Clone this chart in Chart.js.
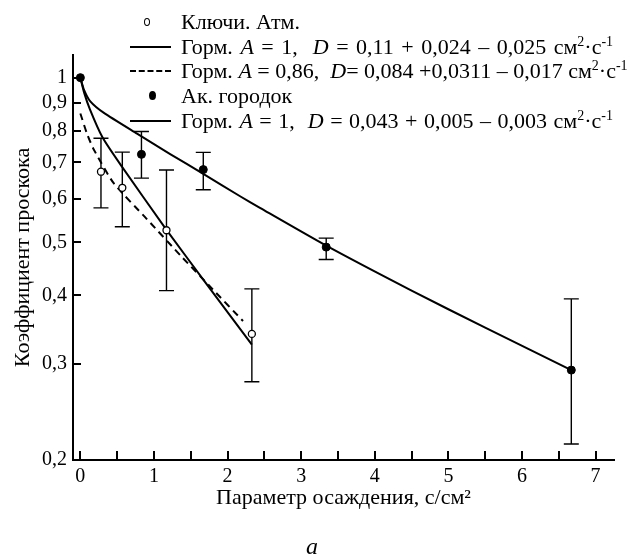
<!DOCTYPE html>
<html>
<head>
<meta charset="utf-8">
<script src="https://cdn.jsdelivr.net/npm/chart.js@4"></script>
<style>
  body { margin: 0; background: #fff; }
  #wrap { position: relative; width: 631px; height: 556px; font-family: 'Liberation Serif', 'DejaVu Serif', serif; color: #000; }
  #legend .row { position: absolute; left: 0; height: 24px; line-height: 24px; font-size: 22px; white-space: nowrap; }
  #legend .txt { position: absolute; left: 181px; top: 0; }
  #legend .ln { position: absolute; left: 130px; top: 11px; width: 41px; border-top: 2px solid #000; }
  #legend .dash { border-top: 2px dashed #000; }
  #legend .open { position: absolute; left: 144px; top: 8px; width: 4px; height: 6px; border: 1.4px solid #000; border-radius: 50%; }
  #legend .dot { position: absolute; left: 149px; top: 7px; width: 7px; height: 9px; background: #000; border-radius: 50%; }
  #legend sup { font-size: 14px; line-height: 0; }
  #legend i { font-style: italic; }
  #lbl { position: absolute; left: 306px; top: 533px; font-size: 24px; font-style: italic; }
</style>
</head>
<body>
<div id="wrap">
  <canvas id="chart" width="631" height="556"></canvas>
  <div id="legend">
    <div class="row" style="top:10px"><span class="open"></span><span class="txt">Ключи. Атм.</span></div>
    <div class="row" style="top:35px"><span class="ln"></span><span class="txt" style="word-spacing:2px">Горм. <i>A</i> = 1,&nbsp; <i>D</i> = 0,11 + 0,024 – 0,025 см<sup>2</sup>·с<sup>-1</sup></span></div>
    <div class="row" style="top:59px"><span class="ln dash"></span><span class="txt">Горм. <i>A</i> = 0,86,&nbsp; <i>D</i>= 0,084 +0,0311 – 0,017 см<sup>2</sup>·с<sup>-1</sup></span></div>
    <div class="row" style="top:84px"><span class="dot"></span><span class="txt">Ак. городок</span></div>
    <div class="row" style="top:109px"><span class="ln"></span><span class="txt" style="word-spacing:1px">Горм. <i>A</i> = 1,&nbsp; <i>D</i> = 0,043 + 0,005 – 0,003 см<sup>2</sup>·с<sup>-1</sup></span></div>
  </div>
  <div id="lbl">a</div>
</div>
<script>
// Ключи. Атм. (open circles)
const keyX = [0.28, 0.57, 1.17, 2.33];
const keyY = [0.673, 0.629, 0.526, 0.340];
const keyLo = [0.578, 0.534, 0.408, 0.278];
const keyHi = [0.775, 0.731, 0.678, 0.411];

// Ак. городок (filled circles)
const akX = [0, 0.83, 1.67, 3.34, 6.67];
const akY = [1.0, 0.724, 0.679, 0.490, 0.292];
const akLo = [null, 0.655, 0.624, 0.465, 0.214];
const akHi = [null, 0.797, 0.730, 0.509, 0.394];

// fitted curves
const fitKeyX = [0, 0.05, 0.13, 0.3, 0.55, 1.17, 1.7, 2.33];
const fitKeyY = [1, 0.94, 0.875, 0.778, 0.692, 0.527, 0.422, 0.325];
const fitKeyDashX = [0, 0.09, 0.18, 0.45, 0.9, 1.38, 1.8, 2.21];
const fitKeyDashY = [0.86, 0.79, 0.74, 0.642, 0.552, 0.47, 0.41, 0.359];
const fitAkX = [0, 0.05, 0.135, 0.32, 0.77, 1.22, 1.67, 2.17, 2.44, 3.34, 4.5, 5.5, 6.67];
const fitAkY = [1, 0.95, 0.905, 0.862, 0.79, 0.725, 0.667, 0.607, 0.578, 0.493, 0.408, 0.349, 0.292];

// axes
const xTicks = [0, 0.5, 1, 1.5, 2, 2.5, 3, 3.5, 4, 4.5, 5, 5.5, 6, 6.5, 7];
const xTickLabels = ['0', '', '1', '', '2', '', '3', '', '4', '', '5', '', '6', '', '7'];
const yTicks = [0.2, 0.3, 0.4, 0.5, 0.6, 0.7, 0.8, 0.9, 1];
const yTickLabels = ['0,2', '0,3', '0,4', '0,5', '0,6', '0,7', '0,8', '0,9', '1'];

const pts = (xs, ys) => xs.map((v, i) => ({ x: v, y: ys[i] }));
const serif = "'Liberation Serif', 'DejaVu Serif', serif";

// error bars under the markers, inward tick marks on top
const extras = {
  id: 'extras',
  beforeDatasetsDraw(chart) {
    const { ctx, scales: { x, y } } = chart;
    ctx.save();
    ctx.strokeStyle = '#000';
    ctx.lineWidth = 1.4;
    const bars = (xs, lo, hi) => {
      xs.forEach((v, i) => {
        if (lo[i] == null) return;
        const px = x.getPixelForValue(v);
        const top = y.getPixelForValue(hi[i]);
        const bot = y.getPixelForValue(lo[i]);
        ctx.beginPath();
        ctx.moveTo(px, top); ctx.lineTo(px, bot);
        ctx.moveTo(px - 7.5, top); ctx.lineTo(px + 7.5, top);
        ctx.moveTo(px - 7.5, bot); ctx.lineTo(px + 7.5, bot);
        ctx.stroke();
      });
    };
    bars(keyX, keyLo, keyHi);
    bars(akX, akLo, akHi);
    ctx.restore();
  },
  afterDraw(chart) {
    const { ctx, chartArea: a, scales: { x, y } } = chart;
    ctx.save();
    ctx.strokeStyle = '#000';
    ctx.lineWidth = 2;
    ctx.beginPath();
    xTicks.forEach(v => {
      const px = Math.round(x.getPixelForValue(v));
      ctx.moveTo(px, a.bottom); ctx.lineTo(px, a.bottom - 9);
    });
    yTicks.forEach(v => {
      const py = Math.round(y.getPixelForValue(v));
      ctx.moveTo(a.left, py); ctx.lineTo(a.left + 8, py);
    });
    ctx.stroke();
    ctx.restore();
  }
};

new Chart(document.getElementById('chart'), {
  type: 'scatter',
  data: {
    datasets: [
      {
        label: 'Ак. городок',
        data: pts(akX, akY),
        pointRadius: 4,
        pointBackgroundColor: '#000',
        pointBorderColor: '#000',
        showLine: false
      },
      {
        label: 'Ключи. Атм.',
        data: pts(keyX, keyY),
        pointRadius: 3.5,
        pointBackgroundColor: '#fff',
        pointBorderColor: '#000',
        pointBorderWidth: 1.3,
        showLine: false
      },
      {
        label: 'Горм. A = 1 (Ключи)',
        data: pts(fitKeyX, fitKeyY),
        showLine: true,
        borderColor: '#000',
        borderWidth: 2,
        pointRadius: 0,
        tension: 0.2
      },
      {
        label: 'Горм. A = 0,86',
        data: pts(fitKeyDashX, fitKeyDashY),
        showLine: true,
        borderColor: '#000',
        borderWidth: 2,
        borderDash: [7, 5],
        pointRadius: 0,
        tension: 0.2
      },
      {
        label: 'Горм. A = 1 (Ак.)',
        data: pts(fitAkX, fitAkY),
        showLine: true,
        borderColor: '#000',
        borderWidth: 2,
        pointRadius: 0,
        tension: 0.2
      }
    ]
  },
  options: {
    responsive: false,
    animation: false,
    layout: { padding: { top: 55, right: 17, bottom: 41, left: 6 } },
    plugins: {
      legend: { display: false },
      tooltip: { enabled: false }
    },
    scales: {
      x: {
        type: 'linear',
        min: -0.1,
        max: 7.25,
        afterBuildTicks: s => { s.ticks = xTicks.map(v => ({ value: v })); },
        afterFit: s => { s.height = 55; },
        grid: { display: false, drawTicks: false },
        border: { display: true, color: '#000', width: 2 },
        ticks: {
          autoSkip: false,
          maxRotation: 0,
          padding: 5,
          color: '#000',
          font: { family: serif, size: 20 },
          callback: (v, i) => xTickLabels[i]
        },
        title: {
          display: true,
          text: 'Параметр осаждения, с/см²',
          color: '#000',
          font: { family: serif, size: 22 }
        }
      },
      y: {
        type: 'logarithmic',
        min: 0.2,
        max: 1.1,
        afterBuildTicks: s => { s.ticks = yTicks.map(v => ({ value: v })); },
        afterFit: s => { s.width = 67; },
        grid: { display: false, drawTicks: false },
        border: { display: true, color: '#000', width: 2 },
        ticks: {
          autoSkip: false,
          padding: 6,
          color: '#000',
          font: { family: serif, size: 20 },
          callback: (v, i) => yTickLabels[i]
        },
        title: {
          display: true,
          text: 'Коэффициент проскока',
          color: '#000',
          font: { family: serif, size: 22 }
        }
      }
    }
  },
  plugins: [extras]
});
</script>
</body>
</html>
